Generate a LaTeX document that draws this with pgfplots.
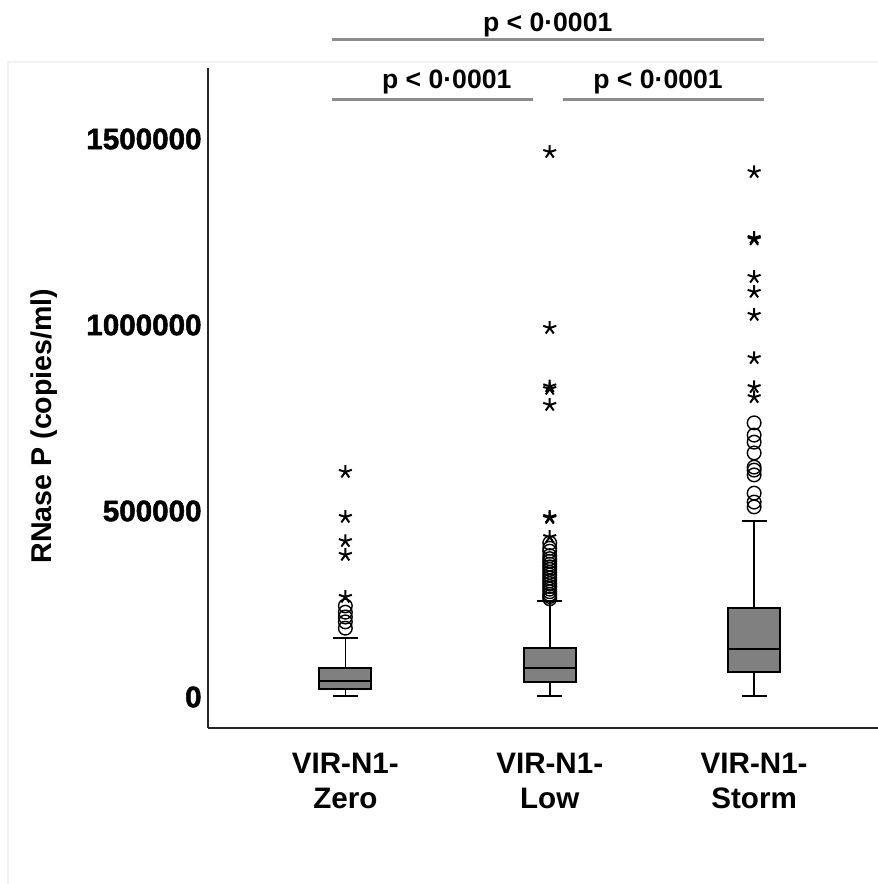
\documentclass[border=0pt]{standalone}
\usepackage{fontspec}
\setmainfont{Liberation Sans}
\newfontfamily\heavyfont{Liberation Sans}[UprightFont=*-Bold, FakeBold=1.6]
\usepackage{pgfplots}
\pgfplotsset{compat=1.18}
\usepgfplotslibrary{statistics}
\definecolor{boxgray}{HTML}{808080}
\definecolor{siggray}{HTML}{8C8C8C}

\begin{document}
\begin{tikzpicture}[x=0.5pt,y=0.5pt]
\useasboundingbox (0,0) rectangle (878,884);
\draw[black!5, line width=0.6pt] (8,0) -- (8,822) -- (878,822);
\begin{axis}[
    at={(104pt,78pt)}, anchor=south west,
    scale only axis, width=335pt, height=330pt,
    xmin=0.328, xmax=3.606,
    ymin=-83300, ymax=1690860,
    axis lines*=left,
    axis line style={line width=1pt, black!85},
    xtick={1,2,3},
    xticklabels={{VIR-N1-\\Zero},{VIR-N1-\\Low},{VIR-N1-\\Storm}},
    ytick={0,500000,1000000,1500000},
    major tick length=0pt,
    scaled y ticks=false,
    /pgf/number format/assume math mode=true,
    yticklabel style={/pgf/number format/fixed,
        /pgf/number format/set thousands separator={},
        font=\fontsize{14.8}{17.5}\selectfont\heavyfont,
        inner sep=0pt, anchor=east, xshift=-3pt},
    xticklabel style={font=\fontsize{14.8}{17.5}\selectfont\bfseries,
        align=center, inner sep=0pt, anchor=north, yshift=-12.5pt},
    ylabel={RNase P (copies/ml)},
    ylabel style={font=\fontsize{14.3}{16}\selectfont\bfseries,
        at={(axis description cs:-0.245,0.4576)}, anchor=center},
    clip=false,
    boxplot/draw direction=y,
    boxplot/every box/.style={fill=boxgray, draw=black, line width=1pt},
    boxplot/every whisker/.style={line width=0.8pt},
    boxplot/every median/.style={line width=1pt},
]

% VIR-N1-Zero
\addplot[black, mark=o, mark size=3.4pt, mark options={line width=0.7pt},
    boxplot prepared={draw position=1, lower whisker=2700, lower quartile=21500,
        median=43000, upper quartile=78000, upper whisker=158600,
        box extend=0.254, whisker extend=0.122}]
    table[row sep=\\, y index=0] {data\\ 245000\\ 228000\\ 215000\\ 202000\\ 185000\\};

% VIR-N1-Low
\addplot[black, mark=o, mark size=3.4pt, mark options={line width=0.7pt},
    boxplot prepared={draw position=2, lower whisker=2700, lower quartile=40300,
        median=78000, upper quartile=131700, upper whisker=258000,
        box extend=0.254, whisker extend=0.122}]
    table[row sep=\\, y index=0] {data\\ 414000\\ 400000\\ 392000\\ 380000\\ 372000\\
        365000\\ 357000\\ 350000\\ 343000\\ 335000\\ 328000\\ 320000\\ 312000\\
        305000\\ 297000\\ 290000\\ 283000\\ 276000\\ 270000\\ 264000\\};

% VIR-N1-Storm
\addplot[black, mark=o, mark size=3.4pt, mark options={line width=0.7pt},
    boxplot prepared={draw position=3, lower whisker=2700, lower quartile=67200,
        median=129000, upper quartile=239000, upper whisker=473000,
        box extend=0.254, whisker extend=0.122}]
    table[row sep=\\, y index=0] {data\\ 737000\\ 704000\\ 685000\\ 656000\\ 618000\\
        610000\\ 597000\\ 548000\\ 524000\\ 511000\\};

% extreme values
\addplot[only marks, black, mark=star, mark size=3.4pt, mark options={line width=1pt}]
    coordinates {
    (1,605000) (1,484000) (1,419000) (1,382000) (1,269000)
    (2,1465000) (2,992000) (2,835000) (2,828000) (2,785000) (2,484000) (2,481000) (2,430000)
    (3,1411000) (3,1234000) (3,1230000) (3,1129000) (3,1089000) (3,1027000)
    (3,911000) (3,833000) (3,806000)
    };

% significance bars
\draw[siggray, line width=1.5pt] (axis cs:0.934,1766130) -- (axis cs:3.049,1766130);
\draw[siggray, line width=1.5pt] (axis cs:0.934,1604840) -- (axis cs:1.917,1604840);
\draw[siggray, line width=1.5pt] (axis cs:2.063,1604840) -- (axis cs:3.049,1604840);
\node[font=\fontsize{13.3}{15}\selectfont\bfseries] at (axis cs:1.99,1806450) {p < 0·0001};
\node[font=\fontsize{13.3}{15}\selectfont\bfseries] at (axis cs:1.496,1653230) {p < 0·0001};
\node[font=\fontsize{13.3}{15}\selectfont\bfseries] at (axis cs:2.53,1653230) {p < 0·0001};
\end{axis}
\end{tikzpicture}
\end{document}
